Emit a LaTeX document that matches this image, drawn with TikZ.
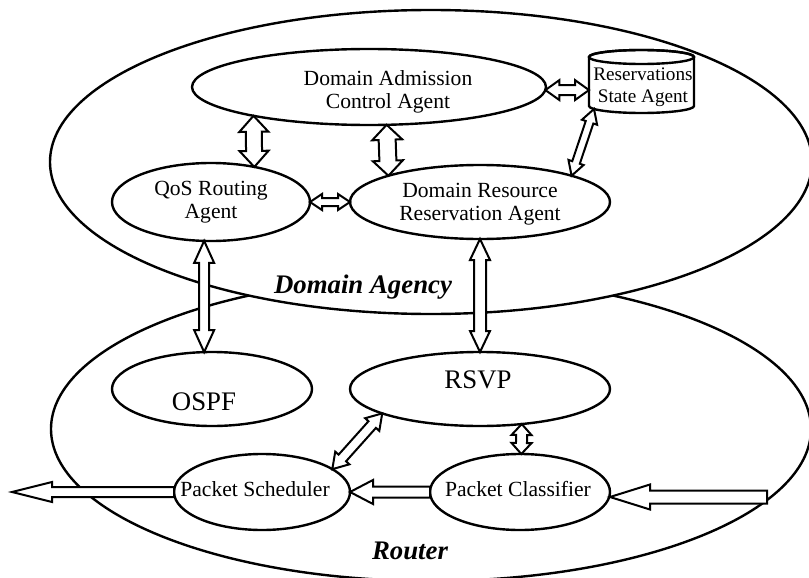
\documentclass[tikz,border=0pt]{standalone}
\usepackage{fontspec}
\setmainfont{Liberation Serif}
\usetikzlibrary{shapes.geometric,calc}

% Hollow block arrows: shaft and head are half widths, tiplen is the head length
\pgfkeys{/barrow/.cd,
  shaft/.store in=\baShaft, head/.store in=\baHead, tiplen/.store in=\baLen,
  shaft=2.5pt, head=5pt, tiplen=8pt}

% double-headed block arrow between two points
\newcommand\twowayarrow[3][]{%
  \begingroup
  \pgfkeys{/barrow/.cd,#1}%
  \path (#2) coordinate (ba-s) (#3) coordinate (ba-e);
  \coordinate (ba-a) at ($(ba-s)!\baLen!(ba-e)$);
  \coordinate (ba-b) at ($(ba-e)!\baLen!(ba-s)$);
  \draw[blockarrow] (ba-s)
    -- ($(ba-a)!\baHead!90:(ba-e)$) -- ($(ba-a)!\baShaft!90:(ba-e)$)
    -- ($(ba-b)!\baShaft!-90:(ba-s)$) -- ($(ba-b)!\baHead!-90:(ba-s)$)
    -- (ba-e)
    -- ($(ba-b)!\baHead!90:(ba-s)$) -- ($(ba-b)!\baShaft!90:(ba-s)$)
    -- ($(ba-a)!\baShaft!-90:(ba-e)$) -- ($(ba-a)!\baHead!-90:(ba-e)$)
    -- cycle;
  \endgroup}

% single-headed block arrow, pointing at the second point
\newcommand\onewayarrow[3][]{%
  \begingroup
  \pgfkeys{/barrow/.cd,#1}%
  \path (#2) coordinate (ba-s) (#3) coordinate (ba-e);
  \coordinate (ba-b) at ($(ba-e)!\baLen!(ba-s)$);
  \draw[blockarrow] ($(ba-s)!\baShaft!90:(ba-e)$)
    -- ($(ba-b)!\baShaft!-90:(ba-s)$) -- ($(ba-b)!\baHead!-90:(ba-s)$)
    -- (ba-e)
    -- ($(ba-b)!\baHead!90:(ba-s)$) -- ($(ba-b)!\baShaft!90:(ba-s)$)
    -- ($(ba-s)!\baShaft!-90:(ba-e)$)
    -- cycle;
  \endgroup}

\begin{document}
\begin{tikzpicture}[x=0.5pt,y=-0.5pt,
  region/.style={ellipse, draw, line width=1.2pt, inner sep=0pt, outer sep=0pt},
  agent/.style={ellipse, draw, fill=white, line width=1.2pt, inner sep=0pt, outer sep=0pt},
  agenttext/.style={font=\fontsize{10.8}{11.5}\selectfont, align=center, inner sep=0pt},
  storetext/.style={font=\fontsize{9.6}{11}\selectfont, align=center, inner sep=0pt},
  bigtext/.style={font=\fontsize{13.4}{15}\selectfont, inner sep=0pt},
  regiontext/.style={font=\fontsize{13.4}{15}\selectfont\bfseries\itshape, inner sep=0pt},
  blockarrow/.style={draw, fill=white, line width=1pt, line join=miter},
]
\useasboundingbox (0,0) rectangle (809,578);
\clip (0,0) rectangle (809,578);

% the two regions: the agency hides the top of the router
\node[region, minimum width=380pt, minimum height=152pt] (router) at (431,429) {};
\node[region, fill=white, minimum width=381pt, minimum height=152pt] (agency) at (431,162) {};

% agents of the domain agency
\node[agent, minimum width=177pt, minimum height=38pt,
  label={[agenttext, name=dac-text, xshift=9.5pt, yshift=-2.25pt]center:Domain Admission\\Control Agent}] (dac) at (369,87) {};
\node[agent, minimum width=99pt, minimum height=39pt,
  label={[agenttext, name=qos-text]center:QoS Routing\\Agent}] (qos) at (211,202) {};
\node[agent, minimum width=130pt, minimum height=37pt,
  label={[agenttext, name=drr-text, yshift=-1.25pt]center:Domain Resource\\Reservation Agent}] (drr) at (480,202) {};

% reservations state store (cylinder)
\node[minimum width=52.5pt, minimum height=31.5pt, inner sep=0pt, outer sep=0pt] (rsa) at (641.5,81.5) {};
\draw[line width=1.2pt, fill=white] ([yshift=-3.5pt]rsa.north west) -- ([yshift=3.5pt]rsa.south west)
  arc[start angle=180, end angle=360, x radius=26.25pt, y radius=3.5pt]
  -- ([yshift=-3.5pt]rsa.north east)
  arc[start angle=0, end angle=180, x radius=26.25pt, y radius=3.5pt] -- cycle;
\draw[line width=1.2pt] ([yshift=-3.5pt]rsa.north) ellipse [x radius=26.25pt, y radius=3.5pt];
\node[storetext] (rsa-text) at ([xshift=0.75pt, yshift=-2.75pt]rsa.center) {Reservations\\State Agent};
\coordinate (rsa-foot) at ([xshift=2.5pt, yshift=2pt]rsa.south west);

% router components
\node[agent, minimum width=100pt, minimum height=37pt,
  label={[bigtext, name=ospf-text, xshift=-4pt, yshift=-6.25pt]center:OSPF}] (ospf) at (212,389) {};
\node[agent, minimum width=130pt, minimum height=37pt,
  label={[bigtext, name=rsvp-text, xshift=-1pt, yshift=4.75pt]center:RSVP}] (rsvp) at (480,389) {};
\node[agent, minimum width=88pt, minimum height=38pt,
  label={[agenttext, name=ps-text, xshift=-3.5pt, yshift=1.5pt]center:Packet Scheduler}] (ps) at (262,492) {};
\node[agent, minimum width=90pt, minimum height=38pt,
  label={[agenttext, name=pc-text, xshift=-1pt, yshift=1.5pt]center:Packet Classifier}] (pc) at (520,492) {};

\coordinate (in) at (767,497);
\coordinate (out) at (12,492);

% interactions
\twowayarrow[shaft=4pt, head=7.25pt, tiplen=8pt]{dac.194}{qos.39}
\twowayarrow[shaft=4.25pt, head=7.5pt, tiplen=7.5pt]{dac.295}{drr.164}
\twowayarrow[shaft=2pt, head=4pt, tiplen=6pt]{qos.east}{drr.west}
\twowayarrow[shaft=2.5pt, head=5pt, tiplen=7pt]{dac.359}{rsa.west |- dac.359}
\twowayarrow[shaft=2pt, head=4pt, tiplen=7pt]{rsa-foot}{drr.16}
\twowayarrow[shaft=2.5pt, head=5pt, tiplen=11pt]{qos.260}{ospf.102}
\twowayarrow[shaft=3pt, head=5pt, tiplen=10.5pt]{drr.south}{rsvp.north}
\twowayarrow[shaft=2.5pt, head=4.75pt, tiplen=7.5pt]{rsvp.194}{ps.18}
\twowayarrow[shaft=2.75pt, head=5pt, tiplen=5.5pt]{rsvp.320}{pc.88}

% packet flow
\onewayarrow[shaft=3.25pt, head=6.25pt, tiplen=20pt]{in}{pc.east |- in}
\onewayarrow[shaft=2.75pt, head=6pt, tiplen=11.5pt]{pc.west}{ps.east}
\onewayarrow[shaft=2.5pt, head=5pt, tiplen=20pt]{ps.west}{out}

% region names
\node[regiontext, anchor=base] (agency-label) at (363,293) {Domain Agency};
\node[regiontext, anchor=base] (router-label) at (410,559) {Router};
\end{tikzpicture}
\end{document}
